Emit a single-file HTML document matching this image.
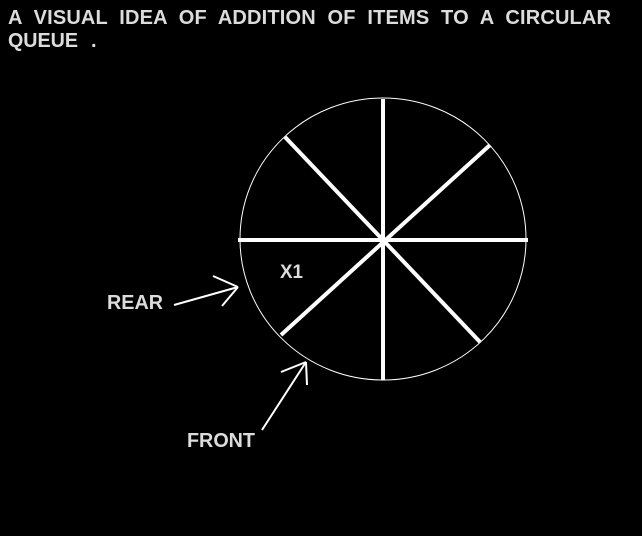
<!DOCTYPE html>
<html><head><style>html,body{margin:0;padding:0;background:#000;}</style></head>
<body>
<svg width="642" height="536" viewBox="0 0 642 536" xmlns="http://www.w3.org/2000/svg" style="display:block">
<rect width="642" height="536" fill="#000"/>
<g font-family="Liberation Sans, sans-serif" font-weight="bold" fill="#dcdcdc">
<text x="8" y="24" font-size="20" textLength="603" lengthAdjust="spacing" word-spacing="6">A VISUAL IDEA OF ADDITION OF ITEMS TO A CIRCULAR</text>
<text x="8" y="47" font-size="20" textLength="70" lengthAdjust="spacingAndGlyphs">QUEUE</text>
<text x="91" y="47" font-size="20">.</text>
<text x="107" y="309" font-size="20" textLength="56" lengthAdjust="spacingAndGlyphs">REAR</text>
<text x="280" y="278" font-size="19" textLength="23" lengthAdjust="spacingAndGlyphs">X1</text>
<text x="187" y="447" font-size="20" textLength="68" lengthAdjust="spacingAndGlyphs">FRONT</text>
</g>
<ellipse cx="383" cy="239" rx="143" ry="141" fill="none" stroke="#fff" stroke-width="1"/>
<g stroke="#fff" stroke-width="4" stroke-linecap="butt">
<line x1="383" y1="99" x2="383" y2="380"/>
<line x1="238" y1="240" x2="528" y2="240"/>
<line x1="285" y1="137" x2="480" y2="342"/>
<line x1="490" y1="145" x2="281" y2="335"/>
</g>
<g stroke="#fff" stroke-width="2" fill="none">
<line x1="174" y1="305" x2="238" y2="287"/>
<line x1="213" y1="276" x2="238" y2="287"/>
<line x1="222" y1="306" x2="238" y2="287"/>
<line x1="262" y1="430" x2="306" y2="362"/>
<line x1="281" y1="372" x2="306" y2="362"/>
<line x1="307" y1="385" x2="306" y2="362"/>
</g>
</svg>
</body></html>
